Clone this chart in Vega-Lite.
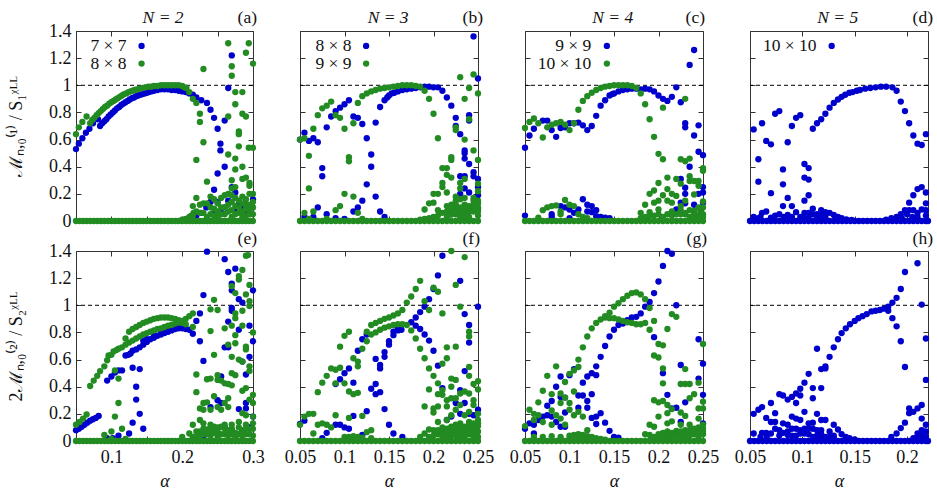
{"$schema":"https://vega.github.io/schema/vega-lite/v6.json","padding":{"left":7,"top":9,"right":0,"bottom":0},"background":"white","spacing":{"row":30,"column":47},"columns":4,"bounds":"flush",
"config":{"view":{"stroke":null},"font":"Liberation Serif","axis":{"grid":false,"domainColor":"#333","tickColor":"#333","tickSize":-5,"domainWidth":1,"tickWidth":1,"labelFlush":false,"labelFont":"Liberation Serif","labelFontSize":18,"labelColor":"#111","titleFont":"Liberation Serif","titleFontWeight":"normal","titleColor":"#111","zindex":1},"point":{"filled":true,"size":40,"opacity":1},"text":{"fontSize":17.5,"color":"#111"}},
"datasets":{
"baseA":[{"a":0.05,"v":0},{"a":0.055,"v":0},{"a":0.06,"v":0},{"a":0.065,"v":0},{"a":0.07,"v":0},{"a":0.075,"v":0},{"a":0.08,"v":0},{"a":0.085,"v":0},{"a":0.09,"v":0},{"a":0.095,"v":0},{"a":0.1,"v":0},{"a":0.105,"v":0},{"a":0.11,"v":0},{"a":0.115,"v":0},{"a":0.12,"v":0},{"a":0.125,"v":0},{"a":0.13,"v":0},{"a":0.135,"v":0},{"a":0.14,"v":0},{"a":0.145,"v":0},{"a":0.15,"v":0},{"a":0.155,"v":0},{"a":0.16,"v":0},{"a":0.165,"v":0},{"a":0.17,"v":0},{"a":0.175,"v":0},{"a":0.18,"v":0},{"a":0.185,"v":0},{"a":0.19,"v":0},{"a":0.195,"v":0},{"a":0.2,"v":0},{"a":0.205,"v":0},{"a":0.21,"v":0},{"a":0.215,"v":0},{"a":0.22,"v":0},{"a":0.225,"v":0},{"a":0.23,"v":0},{"a":0.235,"v":0},{"a":0.24,"v":0},{"a":0.245,"v":0},{"a":0.25,"v":0},{"a":0.255,"v":0},{"a":0.26,"v":0},{"a":0.265,"v":0},{"a":0.27,"v":0},{"a":0.275,"v":0},{"a":0.28,"v":0},{"a":0.285,"v":0},{"a":0.29,"v":0},{"a":0.295,"v":0},{"a":0.3,"v":0}],
"baseB":[{"a":0.05,"v":0},{"a":0.055,"v":0},{"a":0.06,"v":0},{"a":0.065,"v":0},{"a":0.07,"v":0},{"a":0.075,"v":0},{"a":0.08,"v":0},{"a":0.085,"v":0},{"a":0.09,"v":0},{"a":0.095,"v":0},{"a":0.1,"v":0},{"a":0.105,"v":0},{"a":0.11,"v":0},{"a":0.115,"v":0},{"a":0.12,"v":0},{"a":0.125,"v":0},{"a":0.13,"v":0},{"a":0.135,"v":0},{"a":0.14,"v":0},{"a":0.145,"v":0},{"a":0.15,"v":0},{"a":0.155,"v":0},{"a":0.16,"v":0},{"a":0.165,"v":0},{"a":0.17,"v":0},{"a":0.175,"v":0},{"a":0.18,"v":0},{"a":0.185,"v":0},{"a":0.19,"v":0},{"a":0.195,"v":0},{"a":0.2,"v":0},{"a":0.205,"v":0},{"a":0.21,"v":0},{"a":0.215,"v":0},{"a":0.22,"v":0},{"a":0.225,"v":0},{"a":0.23,"v":0},{"a":0.235,"v":0},{"a":0.24,"v":0},{"a":0.245,"v":0},{"a":0.25,"v":0}],
"baseD":[{"a":0.05,"v":0},{"a":0.054,"v":0},{"a":0.058,"v":0},{"a":0.062,"v":0},{"a":0.066,"v":0},{"a":0.07,"v":0},{"a":0.074,"v":0},{"a":0.078,"v":0},{"a":0.082,"v":0},{"a":0.086,"v":0},{"a":0.09,"v":0},{"a":0.094,"v":0},{"a":0.098,"v":0},{"a":0.102,"v":0},{"a":0.106,"v":0},{"a":0.11,"v":0},{"a":0.114,"v":0},{"a":0.118,"v":0},{"a":0.122,"v":0},{"a":0.126,"v":0},{"a":0.13,"v":0},{"a":0.134,"v":0},{"a":0.138,"v":0},{"a":0.142,"v":0},{"a":0.146,"v":0},{"a":0.15,"v":0},{"a":0.154,"v":0},{"a":0.158,"v":0},{"a":0.162,"v":0},{"a":0.166,"v":0},{"a":0.17,"v":0},{"a":0.174,"v":0},{"a":0.178,"v":0},{"a":0.182,"v":0},{"a":0.186,"v":0},{"a":0.19,"v":0},{"a":0.194,"v":0},{"a":0.198,"v":0},{"a":0.202,"v":0},{"a":0.206,"v":0},{"a":0.21,"v":0},{"a":0.214,"v":0},{"a":0.218,"v":0},{"a":0.22,"v":0}],
"A1":[{"a":0.05,"v":0.53},{"a":0.054,"v":0.57},{"a":0.059,"v":0.61},{"a":0.064,"v":0.65},{"a":0.069,"v":0.68},{"a":0.074,"v":0.72},{"a":0.081,"v":0.75},{"a":0.084,"v":0.7},{"a":0.087,"v":0.72},{"a":0.09,"v":0.735},{"a":0.093,"v":0.75},{"a":0.096,"v":0.77},{"a":0.099,"v":0.785},{"a":0.102,"v":0.8},{"a":0.105,"v":0.815},{"a":0.108,"v":0.83},{"a":0.111,"v":0.84},{"a":0.114,"v":0.855},{"a":0.117,"v":0.865},{"a":0.12,"v":0.875},{"a":0.123,"v":0.885},{"a":0.126,"v":0.895},{"a":0.129,"v":0.905},{"a":0.132,"v":0.91},{"a":0.135,"v":0.92},{"a":0.138,"v":0.925},{"a":0.141,"v":0.93},{"a":0.144,"v":0.935},{"a":0.147,"v":0.94},{"a":0.15,"v":0.945},{"a":0.153,"v":0.95},{"a":0.156,"v":0.955},{"a":0.16,"v":0.96},{"a":0.165,"v":0.965},{"a":0.17,"v":0.97},{"a":0.175,"v":0.97},{"a":0.18,"v":0.97},{"a":0.185,"v":0.965},{"a":0.19,"v":0.965},{"a":0.195,"v":0.96},{"a":0.2,"v":0.955},{"a":0.205,"v":0.95},{"a":0.21,"v":0.94},{"a":0.215,"v":0.93},{"a":0.22,"v":0.91},{"a":0.227,"v":0.89},{"a":0.235,"v":0.87},{"a":0.24,"v":0.82},{"a":0.245,"v":0.76},{"a":0.25,"v":0.68},{"a":0.254,"v":0.57},{"a":0.254,"v":0.52},{"a":0.26,"v":0.74},{"a":0.265,"v":0.98},{"a":0.27,"v":1.22},{"a":0.26,"v":0.4},{"a":0.25,"v":0.35},{"a":0.245,"v":0.23},{"a":0.24,"v":0.14},{"a":0.234,"v":0.1},{"a":0.227,"v":0.06},{"a":0.22,"v":0.04},{"a":0.27,"v":0.25},{"a":0.275,"v":0.21},{"a":0.28,"v":0.13},{"a":0.265,"v":0.15},{"a":0.275,"v":0.08},{"a":0.29,"v":0.07},{"a":0.3,"v":0.16},{"a":0.285,"v":0.11},{"a":0.26,"v":0.1},{"a":0.25,"v":0.14},{"a":0.255,"v":0.06},{"a":0.245,"v":0.06}],
"A2":[{"a":0.05,"v":0.64},{"a":0.054,"v":0.69},{"a":0.059,"v":0.73},{"a":0.065,"v":0.77},{"a":0.07,"v":0.72},{"a":0.073,"v":0.745},{"a":0.076,"v":0.76},{"a":0.079,"v":0.78},{"a":0.082,"v":0.795},{"a":0.085,"v":0.81},{"a":0.088,"v":0.825},{"a":0.091,"v":0.84},{"a":0.094,"v":0.85},{"a":0.097,"v":0.865},{"a":0.1,"v":0.875},{"a":0.103,"v":0.885},{"a":0.106,"v":0.895},{"a":0.109,"v":0.905},{"a":0.112,"v":0.915},{"a":0.115,"v":0.925},{"a":0.118,"v":0.935},{"a":0.121,"v":0.94},{"a":0.124,"v":0.95},{"a":0.127,"v":0.955},{"a":0.13,"v":0.96},{"a":0.133,"v":0.965},{"a":0.136,"v":0.97},{"a":0.14,"v":0.975},{"a":0.144,"v":0.98},{"a":0.148,"v":0.985},{"a":0.152,"v":0.99},{"a":0.156,"v":0.99},{"a":0.16,"v":0.995},{"a":0.165,"v":0.995},{"a":0.17,"v":1},{"a":0.175,"v":1},{"a":0.18,"v":1},{"a":0.185,"v":1},{"a":0.19,"v":1},{"a":0.195,"v":1},{"a":0.2,"v":0.995},{"a":0.203,"v":0.985},{"a":0.206,"v":0.98},{"a":0.21,"v":0.95},{"a":0.215,"v":0.9},{"a":0.22,"v":0.87},{"a":0.225,"v":0.79},{"a":0.225,"v":0.73},{"a":0.23,"v":0.58},{"a":0.22,"v":0.45},{"a":0.235,"v":0.29},{"a":0.22,"v":0.17},{"a":0.23,"v":1.12},{"a":0.265,"v":1.31},{"a":0.294,"v":1.31},{"a":0.29,"v":1.24},{"a":0.3,"v":1.16},{"a":0.27,"v":1.14},{"a":0.27,"v":1.07},{"a":0.275,"v":0.95},{"a":0.285,"v":0.95},{"a":0.275,"v":0.86},{"a":0.265,"v":0.77},{"a":0.285,"v":0.79},{"a":0.29,"v":0.77},{"a":0.28,"v":0.66},{"a":0.28,"v":0.64},{"a":0.28,"v":0.55},{"a":0.294,"v":0.54},{"a":0.3,"v":0.54},{"a":0.265,"v":0.49},{"a":0.275,"v":0.46},{"a":0.285,"v":0.4},{"a":0.275,"v":0.38},{"a":0.27,"v":0.3},{"a":0.29,"v":0.32},{"a":0.285,"v":0.31},{"a":0.295,"v":0.28},{"a":0.295,"v":0.26},{"a":0.2,"v":0.01},{"a":0.205,"v":0.015},{"a":0.21,"v":0.03},{"a":0.213,"v":0.04},{"a":0.216,"v":0.06},{"a":0.22,"v":0.07},{"a":0.215,"v":0.11},{"a":0.225,"v":0.12},{"a":0.23,"v":0.13},{"a":0.235,"v":0.13},{"a":0.24,"v":0.18},{"a":0.245,"v":0.16},{"a":0.25,"v":0.13},{"a":0.255,"v":0.17},{"a":0.26,"v":0.19},{"a":0.265,"v":0.2},{"a":0.27,"v":0.19},{"a":0.275,"v":0.17},{"a":0.28,"v":0.15},{"a":0.285,"v":0.18},{"a":0.29,"v":0.16},{"a":0.295,"v":0.2},{"a":0.3,"v":0.2},{"a":0.24,"v":0.05},{"a":0.25,"v":0.07},{"a":0.26,"v":0.05},{"a":0.27,"v":0.08},{"a":0.28,"v":0.06},{"a":0.29,"v":0.09},{"a":0.3,"v":0.1},{"a":0.235,"v":0.03},{"a":0.245,"v":0.09},{"a":0.255,"v":0.1},{"a":0.265,"v":0.12},{"a":0.275,"v":0.11},{"a":0.285,"v":0.07},{"a":0.295,"v":0.12},{"a":0.3,"v":0.05},{"a":0.27,"v":0.24},{"a":0.275,"v":0.25},{"a":0.29,"v":0.12},{"a":0.295,"v":0.08},{"a":0.23,"v":0.06},{"a":0.24,"v":0.1},{"a":0.25,"v":0.03},{"a":0.255,"v":0.05},{"a":0.26,"v":0.1},{"a":0.265,"v":0.07},{"a":0.27,"v":0.14},{"a":0.275,"v":0.05},{"a":0.28,"v":0.1},{"a":0.285,"v":0.13},{"a":0.29,"v":0.04},{"a":0.295,"v":0.05},{"a":0.3,"v":0.14},{"a":0.225,"v":0.06},{"a":0.245,"v":0.04},{"a":0.27,"v":0.03},{"a":0.285,"v":0.03},{"a":0.215,"v":0.04}],
"B1":[{"a":0.05,"v":0.6},{"a":0.055,"v":0.65},{"a":0.06,"v":0.59},{"a":0.065,"v":0.61},{"a":0.07,"v":0.58},{"a":0.075,"v":0.39},{"a":0.075,"v":0.33},{"a":0.08,"v":0.69},{"a":0.085,"v":0.77},{"a":0.09,"v":0.81},{"a":0.095,"v":0.835},{"a":0.1,"v":0.86},{"a":0.105,"v":0.89},{"a":0.11,"v":0.77},{"a":0.115,"v":0.76},{"a":0.12,"v":0.715},{"a":0.125,"v":0.61},{"a":0.13,"v":0.49},{"a":0.13,"v":0.4},{"a":0.125,"v":0.27},{"a":0.135,"v":0.725},{"a":0.14,"v":0.84},{"a":0.145,"v":0.89},{"a":0.148,"v":0.91},{"a":0.15,"v":0.925},{"a":0.153,"v":0.94},{"a":0.156,"v":0.945},{"a":0.16,"v":0.955},{"a":0.165,"v":0.965},{"a":0.17,"v":0.97},{"a":0.175,"v":0.975},{"a":0.18,"v":0.98},{"a":0.185,"v":0.985},{"a":0.19,"v":0.99},{"a":0.195,"v":0.99},{"a":0.2,"v":0.985},{"a":0.205,"v":0.985},{"a":0.21,"v":0.96},{"a":0.215,"v":0.91},{"a":0.22,"v":0.85},{"a":0.225,"v":0.76},{"a":0.225,"v":0.7},{"a":0.23,"v":0.64},{"a":0.235,"v":0.52},{"a":0.235,"v":0.5},{"a":0.235,"v":0.46},{"a":0.24,"v":0.42},{"a":0.24,"v":0.78},{"a":0.24,"v":0.74},{"a":0.245,"v":1.36},{"a":0.25,"v":1.05},{"a":0.135,"v":0.18},{"a":0.12,"v":0.15},{"a":0.115,"v":0.1},{"a":0.11,"v":0.07},{"a":0.14,"v":0.07},{"a":0.145,"v":0.03},{"a":0.07,"v":0.1},{"a":0.08,"v":0.05},{"a":0.235,"v":0.33},{"a":0.23,"v":0.33},{"a":0.245,"v":0.33},{"a":0.245,"v":0.36},{"a":0.25,"v":0.31},{"a":0.25,"v":0.25},{"a":0.25,"v":0.19},{"a":0.25,"v":0.09},{"a":0.24,"v":0.21},{"a":0.23,"v":0.2},{"a":0.235,"v":0.24},{"a":0.225,"v":0.11},{"a":0.22,"v":0.05},{"a":0.055,"v":0.03},{"a":0.065,"v":0.03},{"a":0.09,"v":0.02},{"a":0.1,"v":0.015}],
"B2":[{"a":0.05,"v":0.6},{"a":0.055,"v":0.61},{"a":0.06,"v":0.48},{"a":0.06,"v":0.24},{"a":0.065,"v":0.68},{"a":0.07,"v":0.78},{"a":0.075,"v":0.83},{"a":0.08,"v":0.85},{"a":0.085,"v":0.88},{"a":0.09,"v":0.78},{"a":0.095,"v":0.76},{"a":0.1,"v":0.68},{"a":0.105,"v":0.47},{"a":0.105,"v":0.44},{"a":0.1,"v":0.2},{"a":0.11,"v":0.72},{"a":0.11,"v":0.18},{"a":0.115,"v":0.87},{"a":0.12,"v":0.92},{"a":0.125,"v":0.94},{"a":0.13,"v":0.955},{"a":0.135,"v":0.965},{"a":0.14,"v":0.975},{"a":0.145,"v":0.98},{"a":0.15,"v":0.985},{"a":0.155,"v":0.99},{"a":0.16,"v":0.995},{"a":0.165,"v":1},{"a":0.17,"v":1},{"a":0.175,"v":1},{"a":0.18,"v":0.995},{"a":0.185,"v":0.99},{"a":0.19,"v":0.96},{"a":0.195,"v":0.9},{"a":0.2,"v":0.79},{"a":0.205,"v":0.61},{"a":0.095,"v":0.11},{"a":0.09,"v":0.08},{"a":0.065,"v":0.07},{"a":0.055,"v":0.06},{"a":0.115,"v":0.06},{"a":0.23,"v":1.06},{"a":0.245,"v":1.08},{"a":0.24,"v":0.98},{"a":0.235,"v":0.9},{"a":0.25,"v":0.94},{"a":0.24,"v":0.75},{"a":0.225,"v":0.69},{"a":0.225,"v":0.67},{"a":0.235,"v":0.6},{"a":0.245,"v":0.52},{"a":0.22,"v":0.47},{"a":0.22,"v":0.45},{"a":0.25,"v":0.45},{"a":0.21,"v":0.39},{"a":0.215,"v":0.39},{"a":0.215,"v":0.34},{"a":0.22,"v":0.32},{"a":0.21,"v":0.28},{"a":0.21,"v":0.25},{"a":0.235,"v":0.31},{"a":0.23,"v":0.28},{"a":0.23,"v":0.24},{"a":0.25,"v":0.275},{"a":0.25,"v":0.22},{"a":0.2,"v":0.2},{"a":0.205,"v":0.2},{"a":0.215,"v":0.21},{"a":0.225,"v":0.18},{"a":0.235,"v":0.17},{"a":0.245,"v":0.17},{"a":0.195,"v":0.13},{"a":0.2,"v":0.135},{"a":0.205,"v":0.08},{"a":0.215,"v":0.11},{"a":0.22,"v":0.12},{"a":0.225,"v":0.15},{"a":0.23,"v":0.16},{"a":0.235,"v":0.12},{"a":0.24,"v":0.11},{"a":0.245,"v":0.15},{"a":0.25,"v":0.15},{"a":0.19,"v":0.085},{"a":0.21,"v":0.06},{"a":0.215,"v":0.07},{"a":0.22,"v":0.08},{"a":0.225,"v":0.09},{"a":0.23,"v":0.1},{"a":0.235,"v":0.08},{"a":0.24,"v":0.1},{"a":0.245,"v":0.12},{"a":0.25,"v":0.13},{"a":0.225,"v":0.05},{"a":0.235,"v":0.05},{"a":0.245,"v":0.07},{"a":0.25,"v":0.07},{"a":0.2,"v":0.03},{"a":0.205,"v":0.04},{"a":0.195,"v":0.02},{"a":0.19,"v":0.015},{"a":0.185,"v":0.01},{"a":0.06,"v":0.015},{"a":0.08,"v":0.015},{"a":0.12,"v":0.015},{"a":0.215,"v":0.03},{"a":0.22,"v":0.05},{"a":0.225,"v":0.12},{"a":0.23,"v":0.07},{"a":0.235,"v":0.03},{"a":0.24,"v":0.07},{"a":0.245,"v":0.09},{"a":0.25,"v":0.1},{"a":0.25,"v":0.04},{"a":0.24,"v":0.03},{"a":0.23,"v":0.03}],
"C1":[{"a":0.05,"v":0.54},{"a":0.055,"v":0.63},{"a":0.06,"v":0.68},{"a":0.07,"v":0.74},{"a":0.075,"v":0.74},{"a":0.08,"v":0.67},{"a":0.085,"v":0.62},{"a":0.09,"v":0.685},{"a":0.095,"v":0.69},{"a":0.1,"v":0.72},{"a":0.105,"v":0.72},{"a":0.11,"v":0.725},{"a":0.115,"v":0.705},{"a":0.12,"v":0.67},{"a":0.125,"v":0.7},{"a":0.13,"v":0.775},{"a":0.135,"v":0.85},{"a":0.14,"v":0.89},{"a":0.145,"v":0.925},{"a":0.148,"v":0.935},{"a":0.15,"v":0.94},{"a":0.155,"v":0.955},{"a":0.16,"v":0.965},{"a":0.165,"v":0.97},{"a":0.17,"v":0.975},{"a":0.175,"v":0.975},{"a":0.18,"v":0.97},{"a":0.185,"v":0.975},{"a":0.19,"v":0.97},{"a":0.195,"v":0.955},{"a":0.2,"v":0.925},{"a":0.205,"v":0.9},{"a":0.21,"v":0.885},{"a":0.215,"v":0.915},{"a":0.22,"v":0.985},{"a":0.225,"v":0.875},{"a":0.23,"v":0.72},{"a":0.23,"v":0.69},{"a":0.235,"v":1.15},{"a":0.24,"v":1.26},{"a":0.24,"v":0.63},{"a":0.245,"v":0.705},{"a":0.245,"v":0.51},{"a":0.25,"v":0.485},{"a":0.235,"v":0.4},{"a":0.225,"v":0.31},{"a":0.23,"v":0.245},{"a":0.23,"v":0.2},{"a":0.245,"v":0.2},{"a":0.25,"v":0.21},{"a":0.25,"v":0.25},{"a":0.25,"v":0.135},{"a":0.24,"v":0.12},{"a":0.23,"v":0.13},{"a":0.225,"v":0.135},{"a":0.22,"v":0.085},{"a":0.05,"v":0.04},{"a":0.08,"v":0.05},{"a":0.09,"v":0.11},{"a":0.095,"v":0.1},{"a":0.1,"v":0.085},{"a":0.105,"v":0.06},{"a":0.11,"v":0.085},{"a":0.115,"v":0.16},{"a":0.12,"v":0.12},{"a":0.125,"v":0.11},{"a":0.12,"v":0.07},{"a":0.125,"v":0.065},{"a":0.13,"v":0.08},{"a":0.13,"v":0.035},{"a":0.135,"v":0.03},{"a":0.14,"v":0.025},{"a":0.145,"v":0.02},{"a":0.1,"v":0.02},{"a":0.08,"v":0.03}],
"C2":[{"a":0.05,"v":0.685},{"a":0.055,"v":0.73},{"a":0.06,"v":0.755},{"a":0.065,"v":0.72},{"a":0.07,"v":0.615},{"a":0.075,"v":0.69},{"a":0.08,"v":0.71},{"a":0.085,"v":0.72},{"a":0.09,"v":0.73},{"a":0.095,"v":0.71},{"a":0.1,"v":0.67},{"a":0.105,"v":0.72},{"a":0.11,"v":0.82},{"a":0.115,"v":0.885},{"a":0.12,"v":0.92},{"a":0.125,"v":0.945},{"a":0.13,"v":0.965},{"a":0.135,"v":0.98},{"a":0.14,"v":0.99},{"a":0.145,"v":0.995},{"a":0.15,"v":1},{"a":0.155,"v":1},{"a":0.16,"v":1},{"a":0.165,"v":1},{"a":0.17,"v":0.995},{"a":0.175,"v":0.98},{"a":0.18,"v":0.94},{"a":0.185,"v":0.86},{"a":0.19,"v":0.75},{"a":0.195,"v":0.62},{"a":0.2,"v":0.495},{"a":0.205,"v":0.455},{"a":0.205,"v":0.835},{"a":0.225,"v":0.455},{"a":0.23,"v":0.9},{"a":0.23,"v":0.44},{"a":0.235,"v":0.46},{"a":0.235,"v":0.33},{"a":0.235,"v":0.295},{"a":0.24,"v":0.295},{"a":0.245,"v":0.295},{"a":0.25,"v":0.39},{"a":0.25,"v":0.37},{"a":0.245,"v":0.26},{"a":0.24,"v":0.195},{"a":0.21,"v":0.32},{"a":0.2,"v":0.28},{"a":0.22,"v":0.31},{"a":0.225,"v":0.275},{"a":0.195,"v":0.225},{"a":0.19,"v":0.2},{"a":0.21,"v":0.235},{"a":0.205,"v":0.19},{"a":0.215,"v":0.2},{"a":0.22,"v":0.185},{"a":0.185,"v":0.12},{"a":0.195,"v":0.135},{"a":0.2,"v":0.15},{"a":0.21,"v":0.15},{"a":0.215,"v":0.135},{"a":0.225,"v":0.11},{"a":0.23,"v":0.15},{"a":0.25,"v":0.145},{"a":0.18,"v":0.06},{"a":0.19,"v":0.065},{"a":0.2,"v":0.085},{"a":0.215,"v":0.07},{"a":0.23,"v":0.06},{"a":0.24,"v":0.075},{"a":0.247,"v":0.07},{"a":0.225,"v":0.05},{"a":0.065,"v":0.025},{"a":0.07,"v":0.08},{"a":0.075,"v":0.1},{"a":0.08,"v":0.11},{"a":0.085,"v":0.115},{"a":0.09,"v":0.07},{"a":0.095,"v":0.155},{"a":0.1,"v":0.12},{"a":0.105,"v":0.11},{"a":0.11,"v":0.05},{"a":0.09,"v":0.05},{"a":0.115,"v":0.03},{"a":0.12,"v":0.02},{"a":0.18,"v":0.02},{"a":0.185,"v":0.03},{"a":0.19,"v":0.04},{"a":0.195,"v":0.04},{"a":0.2,"v":0.05},{"a":0.21,"v":0.05},{"a":0.22,"v":0.05},{"a":0.23,"v":0.05},{"a":0.24,"v":0.05},{"a":0.25,"v":0.05},{"a":0.205,"v":0.03},{"a":0.215,"v":0.04},{"a":0.225,"v":0.08},{"a":0.235,"v":0.03},{"a":0.235,"v":0.08},{"a":0.245,"v":0.04},{"a":0.245,"v":0.1},{"a":0.25,"v":0.1},{"a":0.25,"v":0.03},{"a":0.24,"v":0.03}],
"D1":[{"a":0.0535,"v":0.675},{"a":0.058,"v":0.455},{"a":0.058,"v":0.29},{"a":0.0615,"v":0.72},{"a":0.0655,"v":0.59},{"a":0.07,"v":0.565},{"a":0.07,"v":0.205},{"a":0.074,"v":0.79},{"a":0.078,"v":0.81},{"a":0.0815,"v":0.38},{"a":0.0815,"v":0.27},{"a":0.0815,"v":0.11},{"a":0.086,"v":0.58},{"a":0.086,"v":0.17},{"a":0.09,"v":0.7},{"a":0.09,"v":0.11},{"a":0.094,"v":0.76},{"a":0.098,"v":0.78},{"a":0.102,"v":0.42},{"a":0.102,"v":0.32},{"a":0.102,"v":0.15},{"a":0.106,"v":0.39},{"a":0.106,"v":0.305},{"a":0.106,"v":0.19},{"a":0.11,"v":0.68},{"a":0.114,"v":0.72},{"a":0.118,"v":0.75},{"a":0.122,"v":0.79},{"a":0.126,"v":0.835},{"a":0.13,"v":0.87},{"a":0.134,"v":0.895},{"a":0.1375,"v":0.915},{"a":0.141,"v":0.93},{"a":0.145,"v":0.945},{"a":0.148,"v":0.95},{"a":0.152,"v":0.96},{"a":0.155,"v":0.965},{"a":0.16,"v":0.975},{"a":0.165,"v":0.98},{"a":0.17,"v":0.985},{"a":0.175,"v":0.99},{"a":0.18,"v":0.99},{"a":0.186,"v":0.985},{"a":0.19,"v":0.96},{"a":0.194,"v":0.88},{"a":0.198,"v":0.81},{"a":0.202,"v":0.72},{"a":0.206,"v":0.63},{"a":0.21,"v":0.57},{"a":0.214,"v":0.56},{"a":0.218,"v":0.64},{"a":0.202,"v":0.135},{"a":0.206,"v":0.19},{"a":0.21,"v":0.235},{"a":0.214,"v":0.25},{"a":0.218,"v":0.21},{"a":0.218,"v":0.13},{"a":0.198,"v":0.08},{"a":0.202,"v":0.08},{"a":0.206,"v":0.08},{"a":0.214,"v":0.085},{"a":0.218,"v":0.08},{"a":0.21,"v":0.06},{"a":0.194,"v":0.05},{"a":0.19,"v":0.03},{"a":0.185,"v":0.02},{"a":0.18,"v":0.01},{"a":0.0535,"v":0.03},{"a":0.0615,"v":0.06},{"a":0.0655,"v":0.07},{"a":0.074,"v":0.04},{"a":0.078,"v":0.05},{"a":0.086,"v":0.045},{"a":0.094,"v":0.065},{"a":0.098,"v":0.03},{"a":0.11,"v":0.09},{"a":0.11,"v":0.05},{"a":0.118,"v":0.08},{"a":0.122,"v":0.065},{"a":0.126,"v":0.06},{"a":0.13,"v":0.045},{"a":0.134,"v":0.03},{"a":0.1375,"v":0.02},{"a":0.114,"v":0.05},{"a":0.106,"v":0.025},{"a":0.102,"v":0.025},{"a":0.07,"v":0.025},{"a":0.058,"v":0.02},{"a":0.142,"v":0.012},{"a":0.147,"v":0.008},{"a":0.06,"v":0.03},{"a":0.082,"v":0.03},{"a":0.09,"v":0.03},{"a":0.102,"v":0.06},{"a":0.106,"v":0.06},{"a":0.114,"v":0.03},{"a":0.118,"v":0.04},{"a":0.122,"v":0.03},{"a":0.2,"v":0.05},{"a":0.21,"v":0.03},{"a":0.218,"v":0.04},{"a":0.205,"v":0.03},{"a":0.195,"v":0.02}],
"E1":[{"a":0.05,"v":0.08},{"a":0.054,"v":0.09},{"a":0.058,"v":0.105},{"a":0.062,"v":0.12},{"a":0.066,"v":0.135},{"a":0.07,"v":0.15},{"a":0.074,"v":0.16},{"a":0.078,"v":0.17},{"a":0.082,"v":0.185},{"a":0.094,"v":0.445},{"a":0.1,"v":0.475},{"a":0.105,"v":0.505},{"a":0.11,"v":0.52},{"a":0.115,"v":0.52},{"a":0.12,"v":0.63},{"a":0.124,"v":0.635},{"a":0.127,"v":0.645},{"a":0.13,"v":0.665},{"a":0.135,"v":0.675},{"a":0.14,"v":0.69},{"a":0.145,"v":0.71},{"a":0.15,"v":0.73},{"a":0.155,"v":0.75},{"a":0.16,"v":0.76},{"a":0.165,"v":0.775},{"a":0.17,"v":0.785},{"a":0.175,"v":0.795},{"a":0.18,"v":0.805},{"a":0.185,"v":0.815},{"a":0.19,"v":0.825},{"a":0.195,"v":0.83},{"a":0.2,"v":0.83},{"a":0.205,"v":0.825},{"a":0.21,"v":0.82},{"a":0.215,"v":0.79},{"a":0.2,"v":0.85},{"a":0.19,"v":0.84},{"a":0.18,"v":0.82},{"a":0.17,"v":0.8},{"a":0.16,"v":0.785},{"a":0.15,"v":0.75},{"a":0.145,"v":0.74},{"a":0.13,"v":0.54},{"a":0.14,"v":0.53},{"a":0.135,"v":0.4},{"a":0.135,"v":0.305},{"a":0.14,"v":0.2},{"a":0.13,"v":0.135},{"a":0.145,"v":0.09},{"a":0.125,"v":0.055},{"a":0.225,"v":0.735},{"a":0.225,"v":0.94},{"a":0.22,"v":0.885},{"a":0.23,"v":1.075},{"a":0.23,"v":0.59},{"a":0.235,"v":1.395},{"a":0.26,"v":1.34},{"a":0.265,"v":1.245},{"a":0.275,"v":1.27},{"a":0.27,"v":1.16},{"a":0.27,"v":1.11},{"a":0.28,"v":1.045},{"a":0.285,"v":1.02},{"a":0.27,"v":0.98},{"a":0.27,"v":0.96},{"a":0.3,"v":1.11},{"a":0.295,"v":0.85},{"a":0.265,"v":0.88},{"a":0.28,"v":0.82},{"a":0.26,"v":0.69},{"a":0.265,"v":0.69},{"a":0.3,"v":0.735},{"a":0.295,"v":0.62},{"a":0.285,"v":0.585},{"a":0.255,"v":0.475},{"a":0.29,"v":0.49},{"a":0.25,"v":0.3},{"a":0.255,"v":0.28},{"a":0.28,"v":0.235},{"a":0.29,"v":0.24},{"a":0.29,"v":0.28},{"a":0.24,"v":0.25},{"a":0.3,"v":0.18},{"a":0.26,"v":0.1},{"a":0.27,"v":0.08},{"a":0.285,"v":0.07},{"a":0.25,"v":0.05},{"a":0.23,"v":0.04},{"a":0.295,"v":0.1},{"a":0.094,"v":0.02},{"a":0.102,"v":0.02},{"a":0.11,"v":0.04}],
"E2":[{"a":0.05,"v":0.12},{"a":0.055,"v":0.14},{"a":0.06,"v":0.165},{"a":0.065,"v":0.195},{"a":0.07,"v":0.405},{"a":0.075,"v":0.445},{"a":0.08,"v":0.48},{"a":0.084,"v":0.515},{"a":0.09,"v":0.55},{"a":0.094,"v":0.595},{"a":0.096,"v":0.63},{"a":0.1,"v":0.635},{"a":0.103,"v":0.66},{"a":0.107,"v":0.67},{"a":0.11,"v":0.68},{"a":0.115,"v":0.69},{"a":0.12,"v":0.755},{"a":0.125,"v":0.805},{"a":0.13,"v":0.825},{"a":0.135,"v":0.84},{"a":0.14,"v":0.855},{"a":0.145,"v":0.87},{"a":0.15,"v":0.88},{"a":0.155,"v":0.89},{"a":0.16,"v":0.9},{"a":0.165,"v":0.905},{"a":0.17,"v":0.91},{"a":0.175,"v":0.91},{"a":0.18,"v":0.91},{"a":0.185,"v":0.905},{"a":0.19,"v":0.9},{"a":0.195,"v":0.89},{"a":0.2,"v":0.87},{"a":0.205,"v":0.86},{"a":0.12,"v":0.71},{"a":0.125,"v":0.725},{"a":0.13,"v":0.74},{"a":0.135,"v":0.755},{"a":0.14,"v":0.77},{"a":0.145,"v":0.785},{"a":0.15,"v":0.795},{"a":0.155,"v":0.805},{"a":0.16,"v":0.815},{"a":0.165,"v":0.825},{"a":0.17,"v":0.83},{"a":0.175,"v":0.84},{"a":0.18,"v":0.85},{"a":0.185,"v":0.855},{"a":0.19,"v":0.865},{"a":0.195,"v":0.875},{"a":0.2,"v":0.885},{"a":0.205,"v":0.9},{"a":0.21,"v":0.92},{"a":0.215,"v":0.94},{"a":0.215,"v":0.84},{"a":0.105,"v":0.52},{"a":0.11,"v":0.46},{"a":0.11,"v":0.28},{"a":0.105,"v":0.18},{"a":0.115,"v":0.09},{"a":0.1,"v":0.07},{"a":0.09,"v":0.045},{"a":0.22,"v":0.49},{"a":0.22,"v":0.36},{"a":0.24,"v":0.97},{"a":0.245,"v":1.04},{"a":0.25,"v":0.965},{"a":0.24,"v":0.81},{"a":0.26,"v":0.83},{"a":0.27,"v":0.85},{"a":0.245,"v":0.635},{"a":0.24,"v":0.46},{"a":0.235,"v":0.455},{"a":0.25,"v":0.485},{"a":0.25,"v":0.45},{"a":0.255,"v":0.445},{"a":0.245,"v":0.33},{"a":0.225,"v":0.24},{"a":0.23,"v":0.28},{"a":0.235,"v":0.285},{"a":0.23,"v":0.23},{"a":0.24,"v":0.23},{"a":0.25,"v":0.25},{"a":0.255,"v":0.23},{"a":0.26,"v":0.28},{"a":0.265,"v":0.315},{"a":0.265,"v":0.25},{"a":0.27,"v":0.62},{"a":0.275,"v":0.72},{"a":0.265,"v":0.71},{"a":0.28,"v":1.19},{"a":0.285,"v":1.26},{"a":0.28,"v":1.215},{"a":0.29,"v":1.365},{"a":0.293,"v":1.37},{"a":0.27,"v":1.14},{"a":0.275,"v":1.09},{"a":0.275,"v":0.94},{"a":0.275,"v":0.905},{"a":0.285,"v":0.96},{"a":0.29,"v":1.08},{"a":0.295,"v":1.15},{"a":0.295,"v":1.03},{"a":0.295,"v":0.995},{"a":0.3,"v":0.8},{"a":0.285,"v":0.85},{"a":0.275,"v":0.78},{"a":0.28,"v":0.6},{"a":0.285,"v":0.585},{"a":0.29,"v":0.695},{"a":0.29,"v":0.675},{"a":0.295,"v":0.55},{"a":0.295,"v":0.515},{"a":0.3,"v":0.34},{"a":0.27,"v":0.5},{"a":0.275,"v":0.485},{"a":0.26,"v":0.425},{"a":0.265,"v":0.42},{"a":0.27,"v":0.41},{"a":0.285,"v":0.37},{"a":0.29,"v":0.39},{"a":0.295,"v":0.305},{"a":0.3,"v":0.28},{"a":0.285,"v":0.205},{"a":0.29,"v":0.19},{"a":0.3,"v":0.18},{"a":0.26,"v":0.12},{"a":0.27,"v":0.12},{"a":0.28,"v":0.14},{"a":0.29,"v":0.12},{"a":0.225,"v":0.155},{"a":0.23,"v":0.13},{"a":0.215,"v":0.12},{"a":0.24,"v":0.08},{"a":0.25,"v":0.07},{"a":0.22,"v":0.07},{"a":0.225,"v":0.07},{"a":0.23,"v":0.09},{"a":0.235,"v":0.085},{"a":0.245,"v":0.105},{"a":0.255,"v":0.105},{"a":0.265,"v":0.08},{"a":0.275,"v":0.06},{"a":0.285,"v":0.08},{"a":0.295,"v":0.09},{"a":0.3,"v":0.09},{"a":0.21,"v":0.055},{"a":0.2,"v":0.03},{"a":0.27,"v":0.05},{"a":0.28,"v":0.05},{"a":0.29,"v":0.05},{"a":0.24,"v":0.04},{"a":0.26,"v":0.05},{"a":0.25,"v":0.03},{"a":0.1,"v":0.015},{"a":0.12,"v":0.015},{"a":0.215,"v":0.03},{"a":0.225,"v":0.04},{"a":0.23,"v":0.05},{"a":0.235,"v":0.05},{"a":0.245,"v":0.06},{"a":0.25,"v":0.1},{"a":0.255,"v":0.05},{"a":0.26,"v":0.09},{"a":0.265,"v":0.04},{"a":0.27,"v":0.09},{"a":0.275,"v":0.03},{"a":0.28,"v":0.1},{"a":0.285,"v":0.04},{"a":0.29,"v":0.09},{"a":0.295,"v":0.05},{"a":0.3,"v":0.04},{"a":0.3,"v":0.13},{"a":0.24,"v":0.12},{"a":0.22,"v":0.03}],
"F1":[{"a":0.05,"v":0.125},{"a":0.055,"v":0.15},{"a":0.08,"v":0.06},{"a":0.075,"v":0.02},{"a":0.09,"v":0.12},{"a":0.095,"v":0.12},{"a":0.1,"v":0.1},{"a":0.105,"v":0.09},{"a":0.09,"v":0.42},{"a":0.095,"v":0.455},{"a":0.1,"v":0.5},{"a":0.105,"v":0.535},{"a":0.11,"v":0.43},{"a":0.11,"v":0.185},{"a":0.115,"v":0.665},{"a":0.12,"v":0.75},{"a":0.125,"v":0.785},{"a":0.12,"v":0.045},{"a":0.125,"v":0.22},{"a":0.13,"v":0.385},{"a":0.135,"v":0.42},{"a":0.135,"v":0.605},{"a":0.135,"v":0.345},{"a":0.14,"v":0.36},{"a":0.14,"v":0.56},{"a":0.14,"v":0.535},{"a":0.145,"v":0.235},{"a":0.145,"v":0.62},{"a":0.145,"v":0.655},{"a":0.15,"v":0.12},{"a":0.15,"v":0.71},{"a":0.15,"v":0.735},{"a":0.155,"v":0.055},{"a":0.155,"v":0.78},{"a":0.155,"v":0.805},{"a":0.16,"v":0.815},{"a":0.16,"v":0.83},{"a":0.164,"v":0.82},{"a":0.165,"v":0.03},{"a":0.175,"v":0.875},{"a":0.18,"v":0.91},{"a":0.185,"v":0.95},{"a":0.19,"v":0.99},{"a":0.195,"v":1.045},{"a":0.2,"v":1.12},{"a":0.205,"v":1.22},{"a":0.21,"v":1.365},{"a":0.18,"v":0.85},{"a":0.185,"v":0.825},{"a":0.19,"v":0.785},{"a":0.195,"v":0.74},{"a":0.2,"v":0.665},{"a":0.205,"v":0.555},{"a":0.21,"v":0.39},{"a":0.23,"v":1.18},{"a":0.235,"v":0.935},{"a":0.24,"v":0.855},{"a":0.24,"v":0.725},{"a":0.25,"v":0.99},{"a":0.235,"v":0.515},{"a":0.23,"v":0.375},{"a":0.225,"v":0.28},{"a":0.235,"v":0.28},{"a":0.24,"v":0.2},{"a":0.23,"v":0.2},{"a":0.25,"v":0.23},{"a":0.245,"v":0.19},{"a":0.215,"v":0.155},{"a":0.22,"v":0.18}],
"F2":[{"a":0.05,"v":0.12},{"a":0.055,"v":0.18},{"a":0.06,"v":0.2},{"a":0.065,"v":0.2},{"a":0.065,"v":0.055},{"a":0.07,"v":0.36},{"a":0.07,"v":0.12},{"a":0.075,"v":0.43},{"a":0.075,"v":0.13},{"a":0.08,"v":0.48},{"a":0.08,"v":0.12},{"a":0.085,"v":0.535},{"a":0.085,"v":0.1},{"a":0.09,"v":0.525},{"a":0.09,"v":0.425},{"a":0.09,"v":0.19},{"a":0.095,"v":0.54},{"a":0.095,"v":0.695},{"a":0.1,"v":0.775},{"a":0.1,"v":0.425},{"a":0.105,"v":0.805},{"a":0.105,"v":0.365},{"a":0.105,"v":0.17},{"a":0.11,"v":0.345},{"a":0.11,"v":0.61},{"a":0.115,"v":0.355},{"a":0.115,"v":0.585},{"a":0.115,"v":0.55},{"a":0.12,"v":0.68},{"a":0.12,"v":0.185},{"a":0.125,"v":0.735},{"a":0.125,"v":0.805},{"a":0.13,"v":0.785},{"a":0.13,"v":0.855},{"a":0.125,"v":0.065},{"a":0.13,"v":0.08},{"a":0.135,"v":0.87},{"a":0.14,"v":0.885},{"a":0.145,"v":0.9},{"a":0.15,"v":0.91},{"a":0.155,"v":0.925},{"a":0.16,"v":0.94},{"a":0.165,"v":0.965},{"a":0.17,"v":1.02},{"a":0.175,"v":1.065},{"a":0.18,"v":1.12},{"a":0.185,"v":1.18},{"a":0.135,"v":0.8},{"a":0.14,"v":0.82},{"a":0.145,"v":0.835},{"a":0.15,"v":0.845},{"a":0.155,"v":0.855},{"a":0.16,"v":0.86},{"a":0.165,"v":0.86},{"a":0.17,"v":0.855},{"a":0.175,"v":0.815},{"a":0.18,"v":0.755},{"a":0.185,"v":0.68},{"a":0.19,"v":0.61},{"a":0.195,"v":0.535},{"a":0.2,"v":0.48},{"a":0.205,"v":0.425},{"a":0.195,"v":0.38},{"a":0.19,"v":0.255},{"a":0.19,"v":1.03},{"a":0.195,"v":0.965},{"a":0.2,"v":1.13},{"a":0.205,"v":1.1},{"a":0.21,"v":0.94},{"a":0.21,"v":0.57},{"a":0.215,"v":0.61},{"a":0.215,"v":0.69},{"a":0.225,"v":0.695},{"a":0.225,"v":1.15},{"a":0.22,"v":1.4},{"a":0.235,"v":1.355},{"a":0.23,"v":0.99},{"a":0.24,"v":0.805},{"a":0.24,"v":0.77},{"a":0.24,"v":0.545},{"a":0.24,"v":0.48},{"a":0.22,"v":0.46},{"a":0.225,"v":0.45},{"a":0.22,"v":0.4},{"a":0.21,"v":0.375},{"a":0.205,"v":0.345},{"a":0.21,"v":0.34},{"a":0.215,"v":0.3},{"a":0.205,"v":0.255},{"a":0.2,"v":0.24},{"a":0.2,"v":0.21},{"a":0.215,"v":0.255},{"a":0.22,"v":0.315},{"a":0.23,"v":0.35},{"a":0.235,"v":0.365},{"a":0.24,"v":0.35},{"a":0.245,"v":0.42},{"a":0.25,"v":0.44},{"a":0.25,"v":0.38},{"a":0.245,"v":0.3},{"a":0.245,"v":0.265},{"a":0.225,"v":0.315},{"a":0.23,"v":0.265},{"a":0.225,"v":0.23},{"a":0.22,"v":0.19},{"a":0.215,"v":0.155},{"a":0.235,"v":0.19},{"a":0.24,"v":0.215},{"a":0.25,"v":0.2},{"a":0.205,"v":0.14},{"a":0.195,"v":0.085},{"a":0.19,"v":0.055},{"a":0.185,"v":0.03},{"a":0.2,"v":0.08},{"a":0.21,"v":0.08},{"a":0.215,"v":0.09},{"a":0.22,"v":0.105},{"a":0.225,"v":0.12},{"a":0.23,"v":0.13},{"a":0.235,"v":0.105},{"a":0.24,"v":0.14},{"a":0.245,"v":0.13},{"a":0.25,"v":0.155},{"a":0.205,"v":0.05},{"a":0.21,"v":0.05},{"a":0.215,"v":0.06},{"a":0.22,"v":0.07},{"a":0.225,"v":0.08},{"a":0.23,"v":0.08},{"a":0.235,"v":0.07},{"a":0.24,"v":0.09},{"a":0.245,"v":0.1},{"a":0.25,"v":0.11},{"a":0.24,"v":0.05},{"a":0.245,"v":0.06},{"a":0.25,"v":0.07},{"a":0.23,"v":0.05},{"a":0.22,"v":0.04},{"a":0.1,"v":0.03},{"a":0.105,"v":0.03},{"a":0.11,"v":0.035},{"a":0.115,"v":0.03},{"a":0.12,"v":0.025},{"a":0.13,"v":0.02},{"a":0.195,"v":0.03},{"a":0.2,"v":0.04},{"a":0.205,"v":0.08},{"a":0.21,"v":0.1},{"a":0.215,"v":0.03},{"a":0.22,"v":0.1},{"a":0.225,"v":0.04},{"a":0.23,"v":0.11},{"a":0.235,"v":0.03},{"a":0.235,"v":0.1},{"a":0.24,"v":0.12},{"a":0.245,"v":0.03},{"a":0.25,"v":0.03},{"a":0.25,"v":0.13},{"a":0.245,"v":0.08},{"a":0.21,"v":0.03},{"a":0.225,"v":0.1},{"a":0.23,"v":0.03}],
"G1":[{"a":0.05,"v":0.09},{"a":0.055,"v":0.13},{"a":0.06,"v":0.12},{"a":0.06,"v":0.055},{"a":0.065,"v":0.155},{"a":0.07,"v":0.18},{"a":0.075,"v":0.19},{"a":0.075,"v":0.26},{"a":0.08,"v":0.295},{"a":0.085,"v":0.4},{"a":0.09,"v":0.475},{"a":0.09,"v":0.325},{"a":0.095,"v":0.21},{"a":0.095,"v":0.32},{"a":0.1,"v":0.485},{"a":0.105,"v":0.53},{"a":0.11,"v":0.245},{"a":0.11,"v":0.335},{"a":0.115,"v":0.43},{"a":0.115,"v":0.335},{"a":0.12,"v":0.475},{"a":0.12,"v":0.295},{"a":0.12,"v":0.245},{"a":0.125,"v":0.5},{"a":0.125,"v":0.345},{"a":0.125,"v":0.17},{"a":0.13,"v":0.485},{"a":0.13,"v":0.55},{"a":0.13,"v":0.18},{"a":0.13,"v":0.125},{"a":0.135,"v":0.62},{"a":0.135,"v":0.205},{"a":0.14,"v":0.7},{"a":0.14,"v":0.135},{"a":0.145,"v":0.77},{"a":0.145,"v":0.075},{"a":0.15,"v":0.82},{"a":0.155,"v":0.855},{"a":0.16,"v":0.865},{"a":0.165,"v":0.89},{"a":0.17,"v":0.91},{"a":0.175,"v":0.915},{"a":0.18,"v":0.94},{"a":0.185,"v":0.99},{"a":0.19,"v":1.025},{"a":0.195,"v":1.09},{"a":0.2,"v":1.175},{"a":0.205,"v":1.29},{"a":0.21,"v":1.4},{"a":0.215,"v":1.38},{"a":0.195,"v":0.765},{"a":0.205,"v":0.5},{"a":0.21,"v":0.34},{"a":0.215,"v":0.24},{"a":0.22,"v":0.245},{"a":0.22,"v":1},{"a":0.225,"v":0.56},{"a":0.23,"v":0.285},{"a":0.225,"v":0.14},{"a":0.245,"v":0.75},{"a":0.25,"v":0.57},{"a":0.245,"v":0.46},{"a":0.25,"v":0.34},{"a":0.25,"v":0.13},{"a":0.08,"v":0.18},{"a":0.085,"v":0.14},{"a":0.09,"v":0.105},{"a":0.095,"v":0.105},{"a":0.15,"v":0.03},{"a":0.155,"v":0.025}],
"G2":[{"a":0.05,"v":0.11},{"a":0.055,"v":0.23},{"a":0.06,"v":0.2},{"a":0.06,"v":0.155},{"a":0.065,"v":0.19},{"a":0.065,"v":0.285},{"a":0.07,"v":0.37},{"a":0.07,"v":0.14},{"a":0.075,"v":0.48},{"a":0.08,"v":0.345},{"a":0.08,"v":0.225},{"a":0.08,"v":0.12},{"a":0.085,"v":0.55},{"a":0.085,"v":0.19},{"a":0.09,"v":0.28},{"a":0.09,"v":0.35},{"a":0.09,"v":0.165},{"a":0.095,"v":0.435},{"a":0.095,"v":0.32},{"a":0.095,"v":0.12},{"a":0.1,"v":0.495},{"a":0.1,"v":0.28},{"a":0.1,"v":0.23},{"a":0.105,"v":0.52},{"a":0.105,"v":0.365},{"a":0.105,"v":0.19},{"a":0.11,"v":0.545},{"a":0.11,"v":0.6},{"a":0.11,"v":0.215},{"a":0.115,"v":0.69},{"a":0.115,"v":0.18},{"a":0.12,"v":0.77},{"a":0.12,"v":0.08},{"a":0.125,"v":0.83},{"a":0.13,"v":0.87},{"a":0.135,"v":0.895},{"a":0.14,"v":0.92},{"a":0.145,"v":0.945},{"a":0.15,"v":0.99},{"a":0.155,"v":1.015},{"a":0.16,"v":1.045},{"a":0.165,"v":1.07},{"a":0.17,"v":1.09},{"a":0.175,"v":1.095},{"a":0.18,"v":1.08},{"a":0.185,"v":1.045},{"a":0.14,"v":0.91},{"a":0.145,"v":0.905},{"a":0.15,"v":0.905},{"a":0.155,"v":0.895},{"a":0.16,"v":0.885},{"a":0.165,"v":0.875},{"a":0.17,"v":0.87},{"a":0.175,"v":0.86},{"a":0.18,"v":0.86},{"a":0.185,"v":0.87},{"a":0.19,"v":0.98},{"a":0.19,"v":0.82},{"a":0.195,"v":0.885},{"a":0.2,"v":0.715},{"a":0.205,"v":0.705},{"a":0.195,"v":0.63},{"a":0.2,"v":0.615},{"a":0.205,"v":0.535},{"a":0.205,"v":0.425},{"a":0.21,"v":0.825},{"a":0.215,"v":0.935},{"a":0.22,"v":0.915},{"a":0.225,"v":0.42},{"a":0.23,"v":0.53},{"a":0.23,"v":0.42},{"a":0.235,"v":0.42},{"a":0.245,"v":0.43},{"a":0.25,"v":0.715},{"a":0.195,"v":0.3},{"a":0.2,"v":0.285},{"a":0.205,"v":0.295},{"a":0.21,"v":0.265},{"a":0.215,"v":0.235},{"a":0.2,"v":0.18},{"a":0.21,"v":0.205},{"a":0.225,"v":0.21},{"a":0.23,"v":0.185},{"a":0.235,"v":0.315},{"a":0.24,"v":0.345},{"a":0.245,"v":0.24},{"a":0.25,"v":0.29},{"a":0.25,"v":0.24},{"a":0.19,"v":0.12},{"a":0.195,"v":0.105},{"a":0.21,"v":0.13},{"a":0.215,"v":0.145},{"a":0.225,"v":0.12},{"a":0.245,"v":0.165},{"a":0.235,"v":0.12},{"a":0.185,"v":0.05},{"a":0.19,"v":0.045},{"a":0.2,"v":0.05},{"a":0.205,"v":0.06},{"a":0.21,"v":0.07},{"a":0.215,"v":0.06},{"a":0.22,"v":0.06},{"a":0.225,"v":0.07},{"a":0.23,"v":0.08},{"a":0.235,"v":0.08},{"a":0.24,"v":0.09},{"a":0.245,"v":0.1},{"a":0.25,"v":0.09},{"a":0.25,"v":0.05},{"a":0.24,"v":0.05},{"a":0.23,"v":0.05},{"a":0.22,"v":0.04},{"a":0.06,"v":0.03},{"a":0.07,"v":0.03},{"a":0.08,"v":0.035},{"a":0.09,"v":0.03},{"a":0.1,"v":0.04},{"a":0.105,"v":0.045},{"a":0.11,"v":0.05},{"a":0.115,"v":0.045},{"a":0.12,"v":0.035},{"a":0.125,"v":0.03},{"a":0.13,"v":0.02},{"a":0.135,"v":0.015},{"a":0.14,"v":0.01},{"a":0.195,"v":0.03},{"a":0.2,"v":0.025},{"a":0.205,"v":0.03},{"a":0.21,"v":0.035},{"a":0.215,"v":0.03},{"a":0.22,"v":0.075},{"a":0.225,"v":0.035},{"a":0.23,"v":0.03},{"a":0.235,"v":0.04},{"a":0.24,"v":0.07},{"a":0.245,"v":0.06},{"a":0.25,"v":0.07},{"a":0.25,"v":0.12},{"a":0.245,"v":0.03},{"a":0.09,"v":0.015},{"a":0.1,"v":0.02},{"a":0.11,"v":0.03},{"a":0.12,"v":0.02}],
"H1":[{"a":0.0535,"v":0.2},{"a":0.058,"v":0.23},{"a":0.0615,"v":0.25},{"a":0.07,"v":0.28},{"a":0.0655,"v":0.17},{"a":0.07,"v":0.14},{"a":0.074,"v":0.205},{"a":0.074,"v":0.14},{"a":0.078,"v":0.345},{"a":0.0815,"v":0.335},{"a":0.086,"v":0.305},{"a":0.09,"v":0.325},{"a":0.094,"v":0.35},{"a":0.098,"v":0.385},{"a":0.094,"v":0.28},{"a":0.098,"v":0.335},{"a":0.102,"v":0.43},{"a":0.106,"v":0.495},{"a":0.102,"v":0.215},{"a":0.11,"v":0.39},{"a":0.11,"v":0.315},{"a":0.114,"v":0.68},{"a":0.118,"v":0.39},{"a":0.118,"v":0.53},{"a":0.122,"v":0.535},{"a":0.122,"v":0.55},{"a":0.126,"v":0.62},{"a":0.13,"v":0.69},{"a":0.134,"v":0.75},{"a":0.1375,"v":0.795},{"a":0.1415,"v":0.83},{"a":0.1455,"v":0.86},{"a":0.15,"v":0.885},{"a":0.1535,"v":0.905},{"a":0.1575,"v":0.92},{"a":0.1615,"v":0.935},{"a":0.166,"v":0.955},{"a":0.17,"v":0.96},{"a":0.174,"v":0.965},{"a":0.178,"v":0.975},{"a":0.182,"v":0.99},{"a":0.186,"v":1.02},{"a":0.19,"v":1.055},{"a":0.194,"v":1.12},{"a":0.198,"v":1.245},{"a":0.21,"v":1.31},{"a":0.214,"v":1.005},{"a":0.218,"v":0.755},{"a":0.218,"v":0.45},{"a":0.182,"v":0.96},{"a":0.186,"v":0.905},{"a":0.19,"v":0.845},{"a":0.194,"v":0.735},{"a":0.198,"v":0.545},{"a":0.202,"v":0.24},{"a":0.202,"v":0.205},{"a":0.206,"v":0.215},{"a":0.21,"v":0.24},{"a":0.214,"v":0.265},{"a":0.214,"v":0.165},{"a":0.198,"v":0.135},{"a":0.194,"v":0.095},{"a":0.19,"v":0.055},{"a":0.218,"v":0.12},{"a":0.214,"v":0.08},{"a":0.21,"v":0.055},{"a":0.218,"v":0.07},{"a":0.185,"v":0.03},{"a":0.0535,"v":0.055},{"a":0.0615,"v":0.06},{"a":0.0655,"v":0.06},{"a":0.07,"v":0.055},{"a":0.074,"v":0.09},{"a":0.078,"v":0.08},{"a":0.0815,"v":0.13},{"a":0.086,"v":0.12},{"a":0.09,"v":0.18},{"a":0.094,"v":0.165},{"a":0.098,"v":0.155},{"a":0.09,"v":0.09},{"a":0.094,"v":0.09},{"a":0.106,"v":0.13},{"a":0.11,"v":0.135},{"a":0.114,"v":0.2},{"a":0.118,"v":0.155},{"a":0.122,"v":0.155},{"a":0.11,"v":0.09},{"a":0.106,"v":0.09},{"a":0.114,"v":0.08},{"a":0.118,"v":0.08},{"a":0.126,"v":0.07},{"a":0.13,"v":0.12},{"a":0.134,"v":0.085},{"a":0.1375,"v":0.05},{"a":0.1415,"v":0.03},{"a":0.145,"v":0.02},{"a":0.15,"v":0.012},{"a":0.086,"v":0.045},{"a":0.0815,"v":0.06},{"a":0.098,"v":0.055},{"a":0.102,"v":0.055},{"a":0.118,"v":0.035},{"a":0.13,"v":0.04},{"a":0.06,"v":0.03},{"a":0.066,"v":0.03},{"a":0.078,"v":0.04},{"a":0.086,"v":0.07},{"a":0.09,"v":0.04},{"a":0.094,"v":0.04},{"a":0.098,"v":0.08},{"a":0.102,"v":0.09},{"a":0.106,"v":0.05},{"a":0.11,"v":0.03},{"a":0.114,"v":0.04},{"a":0.118,"v":0.05},{"a":0.122,"v":0.03},{"a":0.126,"v":0.03},{"a":0.13,"v":0.02},{"a":0.21,"v":0.03},{"a":0.214,"v":0.04},{"a":0.218,"v":0.03},{"a":0.206,"v":0.02}]
},
"concat":[
{"width":177,"height":190,"resolve":{"axis":{"x":"independent","y":"independent"}},"layer":[
{"data":{"values":[{}]},"mark":{"type":"rule","color":"black","strokeDash":[4,3],"strokeWidth":1},"encoding":{"y":{"datum":1,"type":"quantitative","scale":{"domain":[0,1.4]},"axis":null}}},
{"data":{"name":"A1"},"mark":{"type":"point","color":"#0000cd"},"encoding":{"x":{"field":"a","type":"quantitative","scale":{"domain":[0.05,0.3],"nice":false,"zero":false},"axis":{"values":[0.05,0.1,0.15,0.2,0.25,0.3],"labels":false,"title":null}},"y":{"field":"v","type":"quantitative","scale":{"domain":[0,1.4]},"axis":{"values":[0,0.2,0.4,0.6,0.8,1,1.2,1.4],"format":"~g","labelPadding":10,"title":"ℳₙ,₀⁽¹⁾ / S₁ᵡᴸᴸ","titleFontSize":18,"titlePadding":23}}}},
{"data":{"name":"baseA"},"mark":{"type":"point","color":"#228b22"},"encoding":{"x":{"field":"a","type":"quantitative","axis":null},"y":{"field":"v","type":"quantitative","axis":null}}},
{"data":{"name":"A2"},"mark":{"type":"point","color":"#228b22"},"encoding":{"x":{"field":"a","type":"quantitative","axis":null},"y":{"field":"v","type":"quantitative","axis":null}}},
{"data":{"values":[{}]},"mark":{"type":"point","opacity":0},"encoding":{"x":{"datum":0.1,"type":"quantitative","axis":{"orient":"top","values":[0.05,0.1,0.15,0.2,0.25,0.3],"labels":false,"title":null}},"y":{"datum":0,"type":"quantitative","axis":{"orient":"right","values":[0,0.2,0.4,0.6,0.8,1,1.2,1.4],"labels":false,"title":null}}}},
{"data":{"values":[{}]},"mark":{"type":"text","align":"right","baseline":"alphabetic","dx":4,"dy":-8},"encoding":{"x":{"datum":0.3,"type":"quantitative","axis":null},"y":{"datum":1.4,"type":"quantitative","axis":null},"text":{"value":"(a)"}}},
{"data":{"values":[{}]},"mark":{"type":"text","align":"center","baseline":"alphabetic","dy":-8,"fontStyle":"italic"},"encoding":{"x":{"datum":0.173,"type":"quantitative","axis":null},"y":{"datum":1.4,"type":"quantitative","axis":null},"text":{"value":"N = 2"}}},
{"data":{"values":[{}]},"mark":{"type":"text","align":"right","baseline":"middle"},"encoding":{"x":{"datum":0.1214,"type":"quantitative","axis":null},"y":{"datum":1.29,"type":"quantitative","axis":null},"text":{"value":"7 × 7"}}},
{"data":{"values":[{}]},"mark":{"type":"text","align":"right","baseline":"middle"},"encoding":{"x":{"datum":0.1214,"type":"quantitative","axis":null},"y":{"datum":1.16,"type":"quantitative","axis":null},"text":{"value":"8 × 8"}}},
{"data":{"values":[{}]},"mark":{"type":"point","color":"#0000cd"},"encoding":{"x":{"datum":0.1426,"type":"quantitative","axis":null},"y":{"datum":1.29,"type":"quantitative","axis":null}}},
{"data":{"values":[{}]},"mark":{"type":"point","color":"#228b22"},"encoding":{"x":{"datum":0.1426,"type":"quantitative","axis":null},"y":{"datum":1.16,"type":"quantitative","axis":null}}}
]},
{"width":178,"height":190,"resolve":{"axis":{"x":"independent","y":"independent"}},"layer":[
{"data":{"values":[{}]},"mark":{"type":"rule","color":"black","strokeDash":[4,3],"strokeWidth":1},"encoding":{"y":{"datum":1,"type":"quantitative","scale":{"domain":[0,1.4]},"axis":null}}},
{"data":{"name":"B1"},"mark":{"type":"point","color":"#0000cd"},"encoding":{"x":{"field":"a","type":"quantitative","scale":{"domain":[0.05,0.25],"nice":false,"zero":false},"axis":{"values":[0.05,0.1,0.15,0.2,0.25],"labels":false,"title":null}},"y":{"field":"v","type":"quantitative","scale":{"domain":[0,1.4]},"axis":{"values":[0,0.2,0.4,0.6,0.8,1,1.2,1.4],"labels":false,"title":null}}}},
{"data":{"name":"baseB"},"mark":{"type":"point","color":"#228b22"},"encoding":{"x":{"field":"a","type":"quantitative","axis":null},"y":{"field":"v","type":"quantitative","axis":null}}},
{"data":{"name":"B2"},"mark":{"type":"point","color":"#228b22"},"encoding":{"x":{"field":"a","type":"quantitative","axis":null},"y":{"field":"v","type":"quantitative","axis":null}}},
{"data":{"values":[{}]},"mark":{"type":"point","opacity":0},"encoding":{"x":{"datum":0.1,"type":"quantitative","axis":{"orient":"top","values":[0.05,0.1,0.15,0.2,0.25],"labels":false,"title":null}},"y":{"datum":0,"type":"quantitative","axis":{"orient":"right","values":[0,0.2,0.4,0.6,0.8,1,1.2,1.4],"labels":false,"title":null}}}},
{"data":{"values":[{}]},"mark":{"type":"text","align":"right","baseline":"alphabetic","dx":5,"dy":-8},"encoding":{"x":{"datum":0.25,"type":"quantitative","axis":null},"y":{"datum":1.4,"type":"quantitative","axis":null},"text":{"value":"(b)"}}},
{"data":{"values":[{}]},"mark":{"type":"text","align":"center","baseline":"alphabetic","dy":-8,"fontStyle":"italic"},"encoding":{"x":{"datum":0.149,"type":"quantitative","axis":null},"y":{"datum":1.4,"type":"quantitative","axis":null},"text":{"value":"N = 3"}}},
{"data":{"values":[{}]},"mark":{"type":"text","align":"right","baseline":"middle"},"encoding":{"x":{"datum":0.108,"type":"quantitative","axis":null},"y":{"datum":1.29,"type":"quantitative","axis":null},"text":{"value":"8 × 8"}}},
{"data":{"values":[{}]},"mark":{"type":"text","align":"right","baseline":"middle"},"encoding":{"x":{"datum":0.108,"type":"quantitative","axis":null},"y":{"datum":1.16,"type":"quantitative","axis":null},"text":{"value":"9 × 9"}}},
{"data":{"values":[{}]},"mark":{"type":"point","color":"#0000cd"},"encoding":{"x":{"datum":0.1243,"type":"quantitative","axis":null},"y":{"datum":1.29,"type":"quantitative","axis":null}}},
{"data":{"values":[{}]},"mark":{"type":"point","color":"#228b22"},"encoding":{"x":{"datum":0.1243,"type":"quantitative","axis":null},"y":{"datum":1.16,"type":"quantitative","axis":null}}}
]},
{"width":178,"height":190,"resolve":{"axis":{"x":"independent","y":"independent"}},"layer":[
{"data":{"values":[{}]},"mark":{"type":"rule","color":"black","strokeDash":[4,3],"strokeWidth":1},"encoding":{"y":{"datum":1,"type":"quantitative","scale":{"domain":[0,1.4]},"axis":null}}},
{"data":{"name":"C1"},"mark":{"type":"point","color":"#0000cd"},"encoding":{"x":{"field":"a","type":"quantitative","scale":{"domain":[0.05,0.25],"nice":false,"zero":false},"axis":{"values":[0.05,0.1,0.15,0.2,0.25],"labels":false,"title":null}},"y":{"field":"v","type":"quantitative","scale":{"domain":[0,1.4]},"axis":{"values":[0,0.2,0.4,0.6,0.8,1,1.2,1.4],"labels":false,"title":null}}}},
{"data":{"name":"baseB"},"mark":{"type":"point","color":"#228b22"},"encoding":{"x":{"field":"a","type":"quantitative","axis":null},"y":{"field":"v","type":"quantitative","axis":null}}},
{"data":{"name":"C2"},"mark":{"type":"point","color":"#228b22"},"encoding":{"x":{"field":"a","type":"quantitative","axis":null},"y":{"field":"v","type":"quantitative","axis":null}}},
{"data":{"values":[{}]},"mark":{"type":"point","opacity":0},"encoding":{"x":{"datum":0.1,"type":"quantitative","axis":{"orient":"top","values":[0.05,0.1,0.15,0.2,0.25],"labels":false,"title":null}},"y":{"datum":0,"type":"quantitative","axis":{"orient":"right","values":[0,0.2,0.4,0.6,0.8,1,1.2,1.4],"labels":false,"title":null}}}},
{"data":{"values":[{}]},"mark":{"type":"text","align":"right","baseline":"alphabetic","dx":2,"dy":-8},"encoding":{"x":{"datum":0.25,"type":"quantitative","axis":null},"y":{"datum":1.4,"type":"quantitative","axis":null},"text":{"value":"(c)"}}},
{"data":{"values":[{}]},"mark":{"type":"text","align":"center","baseline":"alphabetic","dy":-8,"fontStyle":"italic"},"encoding":{"x":{"datum":0.1485,"type":"quantitative","axis":null},"y":{"datum":1.4,"type":"quantitative","axis":null},"text":{"value":"N = 4"}}},
{"data":{"values":[{}]},"mark":{"type":"text","align":"right","baseline":"middle"},"encoding":{"x":{"datum":0.1245,"type":"quantitative","axis":null},"y":{"datum":1.29,"type":"quantitative","axis":null},"text":{"value":"9 × 9"}}},
{"data":{"values":[{}]},"mark":{"type":"text","align":"right","baseline":"middle"},"encoding":{"x":{"datum":0.1245,"type":"quantitative","axis":null},"y":{"datum":1.16,"type":"quantitative","axis":null},"text":{"value":"10 × 10"}}},
{"data":{"values":[{}]},"mark":{"type":"point","color":"#0000cd"},"encoding":{"x":{"datum":0.142,"type":"quantitative","axis":null},"y":{"datum":1.29,"type":"quantitative","axis":null}}},
{"data":{"values":[{}]},"mark":{"type":"point","color":"#228b22"},"encoding":{"x":{"datum":0.142,"type":"quantitative","axis":null},"y":{"datum":1.16,"type":"quantitative","axis":null}}}
]},
{"width":178,"height":190,"resolve":{"axis":{"x":"independent","y":"independent"}},"layer":[
{"data":{"values":[{}]},"mark":{"type":"rule","color":"black","strokeDash":[4,3],"strokeWidth":1},"encoding":{"y":{"datum":1,"type":"quantitative","scale":{"domain":[0,1.4]},"axis":null}}},
{"data":{"name":"baseD"},"mark":{"type":"point","color":"#0000cd"},"encoding":{"x":{"field":"a","type":"quantitative","scale":{"domain":[0.05,0.22],"nice":false,"zero":false},"axis":{"values":[0.05,0.1,0.15,0.2],"labels":false,"title":null}},"y":{"field":"v","type":"quantitative","scale":{"domain":[0,1.4]},"axis":{"values":[0,0.2,0.4,0.6,0.8,1,1.2,1.4],"labels":false,"title":null}}}},
{"data":{"name":"D1"},"mark":{"type":"point","color":"#0000cd"},"encoding":{"x":{"field":"a","type":"quantitative","axis":null},"y":{"field":"v","type":"quantitative","axis":null}}},
{"data":{"values":[{}]},"mark":{"type":"point","opacity":0},"encoding":{"x":{"datum":0.1,"type":"quantitative","axis":{"orient":"top","values":[0.05,0.1,0.15,0.2],"labels":false,"title":null}},"y":{"datum":0,"type":"quantitative","axis":{"orient":"right","values":[0,0.2,0.4,0.6,0.8,1,1.2,1.4],"labels":false,"title":null}}}},
{"data":{"values":[{}]},"mark":{"type":"text","align":"right","baseline":"alphabetic","dx":5,"dy":-8},"encoding":{"x":{"datum":0.22,"type":"quantitative","axis":null},"y":{"datum":1.4,"type":"quantitative","axis":null},"text":{"value":"(d)"}}},
{"data":{"values":[{}]},"mark":{"type":"text","align":"center","baseline":"alphabetic","dy":-8,"fontStyle":"italic"},"encoding":{"x":{"datum":0.1337,"type":"quantitative","axis":null},"y":{"datum":1.4,"type":"quantitative","axis":null},"text":{"value":"N = 5"}}},
{"data":{"values":[{}]},"mark":{"type":"text","align":"right","baseline":"middle"},"encoding":{"x":{"datum":0.1136,"type":"quantitative","axis":null},"y":{"datum":1.29,"type":"quantitative","axis":null},"text":{"value":"10 × 10"}}},
{"data":{"values":[{}]},"mark":{"type":"point","color":"#0000cd"},"encoding":{"x":{"datum":0.128,"type":"quantitative","axis":null},"y":{"datum":1.29,"type":"quantitative","axis":null}}}
]},
{"width":177,"height":190,"resolve":{"axis":{"x":"independent","y":"independent"}},"layer":[
{"data":{"values":[{}]},"mark":{"type":"rule","color":"black","strokeDash":[4,3],"strokeWidth":1},"encoding":{"y":{"datum":1,"type":"quantitative","scale":{"domain":[0,1.4]},"axis":null}}},
{"data":{"name":"E1"},"mark":{"type":"point","color":"#0000cd"},"encoding":{"x":{"field":"a","type":"quantitative","scale":{"domain":[0.05,0.3],"nice":false,"zero":false},"axis":{"values":[0.05,0.1,0.15,0.2,0.25,0.3],"labelExpr":"abs(datum.value*10-round(datum.value*10))<0.01?format(datum.value,'~g'):''","labelPadding":12,"title":"α","titleFontSize":18,"titleFontStyle":"italic","titlePadding":6}},"y":{"field":"v","type":"quantitative","scale":{"domain":[0,1.4]},"axis":{"values":[0,0.2,0.4,0.6,0.8,1,1.2,1.4],"format":"~g","labelPadding":10,"title":"2ℳₙ,₀⁽²⁾ / S₂ᵡᴸᴸ","titleFontSize":18,"titlePadding":23}}}},
{"data":{"name":"baseA"},"mark":{"type":"point","color":"#228b22"},"encoding":{"x":{"field":"a","type":"quantitative","axis":null},"y":{"field":"v","type":"quantitative","axis":null}}},
{"data":{"name":"E2"},"mark":{"type":"point","color":"#228b22"},"encoding":{"x":{"field":"a","type":"quantitative","axis":null},"y":{"field":"v","type":"quantitative","axis":null}}},
{"data":{"values":[{}]},"mark":{"type":"point","opacity":0},"encoding":{"x":{"datum":0.1,"type":"quantitative","axis":{"orient":"top","values":[0.05,0.1,0.15,0.2,0.25,0.3],"labels":false,"title":null}},"y":{"datum":0,"type":"quantitative","axis":{"orient":"right","values":[0,0.2,0.4,0.6,0.8,1,1.2,1.4],"labels":false,"title":null}}}},
{"data":{"values":[{}]},"mark":{"type":"text","align":"right","baseline":"alphabetic","dx":4,"dy":-7},"encoding":{"x":{"datum":0.3,"type":"quantitative","axis":null},"y":{"datum":1.4,"type":"quantitative","axis":null},"text":{"value":"(e)"}}}
]},
{"width":178,"height":190,"resolve":{"axis":{"x":"independent","y":"independent"}},"layer":[
{"data":{"values":[{}]},"mark":{"type":"rule","color":"black","strokeDash":[4,3],"strokeWidth":1},"encoding":{"y":{"datum":1,"type":"quantitative","scale":{"domain":[0,1.4]},"axis":null}}},
{"data":{"name":"F1"},"mark":{"type":"point","color":"#0000cd"},"encoding":{"x":{"field":"a","type":"quantitative","scale":{"domain":[0.05,0.25],"nice":false,"zero":false},"axis":{"values":[0.05,0.1,0.15,0.2,0.25],"format":"~g","labelPadding":12,"title":"α","titleFontSize":18,"titleFontStyle":"italic","titlePadding":6}},"y":{"field":"v","type":"quantitative","scale":{"domain":[0,1.4]},"axis":{"values":[0,0.2,0.4,0.6,0.8,1,1.2,1.4],"labels":false,"title":null}}}},
{"data":{"name":"baseB"},"mark":{"type":"point","color":"#228b22"},"encoding":{"x":{"field":"a","type":"quantitative","axis":null},"y":{"field":"v","type":"quantitative","axis":null}}},
{"data":{"name":"F2"},"mark":{"type":"point","color":"#228b22"},"encoding":{"x":{"field":"a","type":"quantitative","axis":null},"y":{"field":"v","type":"quantitative","axis":null}}},
{"data":{"values":[{}]},"mark":{"type":"point","opacity":0},"encoding":{"x":{"datum":0.1,"type":"quantitative","axis":{"orient":"top","values":[0.05,0.1,0.15,0.2,0.25],"labels":false,"title":null}},"y":{"datum":0,"type":"quantitative","axis":{"orient":"right","values":[0,0.2,0.4,0.6,0.8,1,1.2,1.4],"labels":false,"title":null}}}},
{"data":{"values":[{}]},"mark":{"type":"text","align":"right","baseline":"alphabetic","dx":2,"dy":-7},"encoding":{"x":{"datum":0.25,"type":"quantitative","axis":null},"y":{"datum":1.4,"type":"quantitative","axis":null},"text":{"value":"(f)"}}}
]},
{"width":178,"height":190,"resolve":{"axis":{"x":"independent","y":"independent"}},"layer":[
{"data":{"values":[{}]},"mark":{"type":"rule","color":"black","strokeDash":[4,3],"strokeWidth":1},"encoding":{"y":{"datum":1,"type":"quantitative","scale":{"domain":[0,1.4]},"axis":null}}},
{"data":{"name":"G1"},"mark":{"type":"point","color":"#0000cd"},"encoding":{"x":{"field":"a","type":"quantitative","scale":{"domain":[0.05,0.25],"nice":false,"zero":false},"axis":{"values":[0.05,0.1,0.15,0.2,0.25],"format":"~g","labelPadding":12,"title":"α","titleFontSize":18,"titleFontStyle":"italic","titlePadding":6}},"y":{"field":"v","type":"quantitative","scale":{"domain":[0,1.4]},"axis":{"values":[0,0.2,0.4,0.6,0.8,1,1.2,1.4],"labels":false,"title":null}}}},
{"data":{"name":"baseB"},"mark":{"type":"point","color":"#228b22"},"encoding":{"x":{"field":"a","type":"quantitative","axis":null},"y":{"field":"v","type":"quantitative","axis":null}}},
{"data":{"name":"G2"},"mark":{"type":"point","color":"#228b22"},"encoding":{"x":{"field":"a","type":"quantitative","axis":null},"y":{"field":"v","type":"quantitative","axis":null}}},
{"data":{"values":[{}]},"mark":{"type":"point","opacity":0},"encoding":{"x":{"datum":0.1,"type":"quantitative","axis":{"orient":"top","values":[0.05,0.1,0.15,0.2,0.25],"labels":false,"title":null}},"y":{"datum":0,"type":"quantitative","axis":{"orient":"right","values":[0,0.2,0.4,0.6,0.8,1,1.2,1.4],"labels":false,"title":null}}}},
{"data":{"values":[{}]},"mark":{"type":"text","align":"right","baseline":"alphabetic","dx":4,"dy":-7},"encoding":{"x":{"datum":0.25,"type":"quantitative","axis":null},"y":{"datum":1.4,"type":"quantitative","axis":null},"text":{"value":"(g)"}}}
]},
{"width":178,"height":190,"resolve":{"axis":{"x":"independent","y":"independent"}},"layer":[
{"data":{"values":[{}]},"mark":{"type":"rule","color":"black","strokeDash":[4,3],"strokeWidth":1},"encoding":{"y":{"datum":1,"type":"quantitative","scale":{"domain":[0,1.4]},"axis":null}}},
{"data":{"name":"baseD"},"mark":{"type":"point","color":"#0000cd"},"encoding":{"x":{"field":"a","type":"quantitative","scale":{"domain":[0.05,0.22],"nice":false,"zero":false},"axis":{"values":[0.05,0.1,0.15,0.2],"format":"~g","labelPadding":12,"title":"α","titleFontSize":18,"titleFontStyle":"italic","titlePadding":6}},"y":{"field":"v","type":"quantitative","scale":{"domain":[0,1.4]},"axis":{"values":[0,0.2,0.4,0.6,0.8,1,1.2,1.4],"labels":false,"title":null}}}},
{"data":{"name":"H1"},"mark":{"type":"point","color":"#0000cd"},"encoding":{"x":{"field":"a","type":"quantitative","axis":null},"y":{"field":"v","type":"quantitative","axis":null}}},
{"data":{"values":[{}]},"mark":{"type":"point","opacity":0},"encoding":{"x":{"datum":0.1,"type":"quantitative","axis":{"orient":"top","values":[0.05,0.1,0.15,0.2],"labels":false,"title":null}},"y":{"datum":0,"type":"quantitative","axis":{"orient":"right","values":[0,0.2,0.4,0.6,0.8,1,1.2,1.4],"labels":false,"title":null}}}},
{"data":{"values":[{}]},"mark":{"type":"text","align":"right","baseline":"alphabetic","dx":5,"dy":-7},"encoding":{"x":{"datum":0.22,"type":"quantitative","axis":null},"y":{"datum":1.4,"type":"quantitative","axis":null},"text":{"value":"(h)"}}}
]}
]}
